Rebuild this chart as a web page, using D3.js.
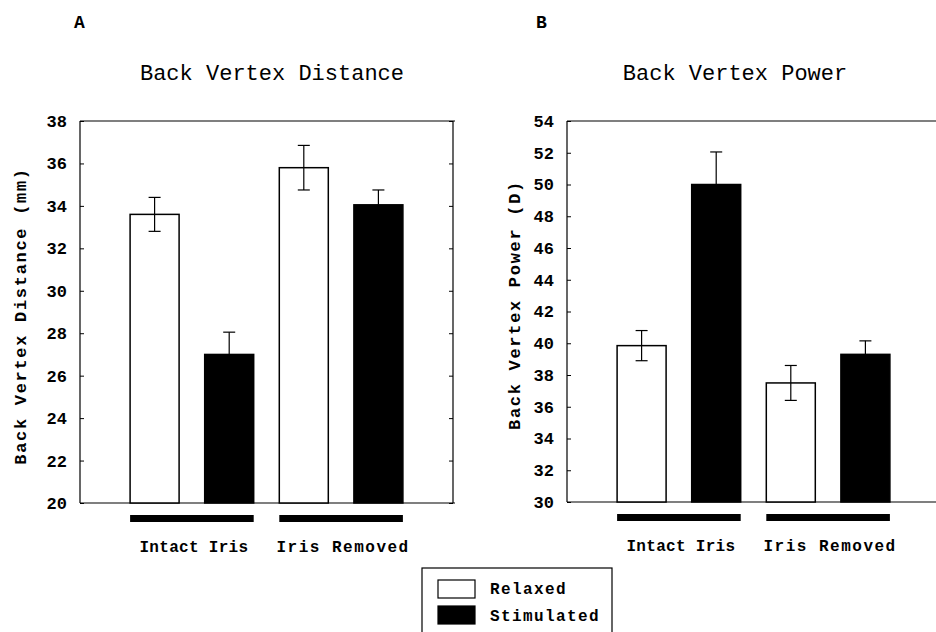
<!DOCTYPE html>
<html><head><meta charset="utf-8">
<script src="https://cdn.jsdelivr.net/npm/d3@7"></script>
<style>
html,body{margin:0;padding:0;background:#fff;}
svg{display:block;}
text{font-family:"Liberation Mono","DejaVu Sans Mono",monospace;fill:#000;}
</style></head><body>
<svg id="chart" width="936" height="632"></svg>
<script>
// ---- data ----
const groups = ["Intact Iris", "Iris Removed"];
const conditions = ["Relaxed", "Stimulated"];
// Panel A: Back Vertex Distance (mm)
const distMeans = [33.6, 27.0, 35.8, 34.05];
const distErr   = [0.8, 1.05, 1.05, 0.7];
const distTicks = [20, 22, 24, 26, 28, 30, 32, 34, 36, 38];
// Panel B: Back Vertex Power (D)
const powerMeans = [39.85, 50.0, 37.5, 39.3];
const powerErr   = [0.95, 2.05, 1.1, 0.85];
const powerTicks = [30, 32, 34, 36, 38, 40, 42, 44, 46, 48, 50, 52, 54];

const svg = d3.select("#chart");

function panel(opts) {
  const g = svg.append("g");
  const x = d3.scaleLinear().domain([0, 5]).range([opts.left, opts.left + 373]);
  const y = d3.scaleLinear().domain([opts.ticks[0], opts.ticks[opts.ticks.length - 1]]).range([opts.bottom, opts.top]);
  const bw = 49;

  // frame
  const right = Math.min(x(5), 936);
  g.append("line").attr("x1", x(0)).attr("x2", right + 2).attr("y1", y.range()[1]).attr("y2", y.range()[1]).attr("stroke", "#000").attr("stroke-width", 1.2);
  g.append("line").attr("x1", x(0)).attr("x2", right + 2).attr("y1", y.range()[0]).attr("y2", y.range()[0]).attr("stroke", "#000").attr("stroke-width", 1.2);
  g.append("line").attr("x1", x(0)).attr("x2", x(0)).attr("y1", opts.top).attr("y2", opts.bottom).attr("stroke", "#000").attr("stroke-width", 1.2);
  if (x(5) <= 936) {
    g.append("line").attr("x1", x(5)).attr("x2", x(5)).attr("y1", opts.top).attr("y2", opts.bottom).attr("stroke", "#000").attr("stroke-width", 1.2);
  }

  // left axis with inward ticks
  const ax = g.append("g").attr("transform", `translate(${x(0)},0)`)
    .call(d3.axisLeft(y).tickValues(opts.ticks).tickSize(-4).tickPadding(13).tickFormat(d3.format("d")));
  ax.select(".domain").remove();
  ax.selectAll("text").attr("font-size", 17).attr("font-weight", "bold")
    .attr("font-family", "'Liberation Mono', monospace").attr("fill", "#000");
  ax.selectAll("line").attr("stroke", "#000");
  // right side inward ticks
  const ax2 = g.append("g").attr("transform", `translate(${x(5)},0)`)
    .call(d3.axisRight(y).tickValues(opts.ticks).tickSize(-4).tickFormat(""));
  ax2.select(".domain").remove();
  ax2.selectAll("line").attr("stroke", "#000");

  // bars
  const vals = opts.means.map((m, i) => ({ m, e: opts.err[i], i, cond: i % 2 }));
  g.selectAll("rect.bar").data(vals).enter().append("rect")
    .attr("class", "bar")
    .attr("x", d => x(d.i + 1) - bw / 2)
    .attr("width", bw)
    .attr("y", d => y(d.m))
    .attr("height", d => y(opts.ticks[0]) - y(d.m))
    .attr("fill", d => d.cond ? "#000" : "#fff")
    .attr("stroke", "#000").attr("stroke-width", 1.5);

  // error bars
  const eg = g.selectAll("g.err").data(vals).enter().append("g").attr("class", "err");
  eg.append("line")
    .attr("x1", d => x(d.i + 1)).attr("x2", d => x(d.i + 1))
    .attr("y1", d => y(d.m + d.e)).attr("y2", d => d.cond ? y(d.m) : y(d.m - d.e))
    .attr("stroke", "#000").attr("stroke-width", 1.2);
  eg.append("line")
    .attr("x1", d => x(d.i + 1) - 6).attr("x2", d => x(d.i + 1) + 6)
    .attr("y1", d => y(d.m + d.e)).attr("y2", d => y(d.m + d.e))
    .attr("stroke", "#000").attr("stroke-width", 1.2);
  eg.filter(d => !d.cond).append("line")
    .attr("x1", d => x(d.i + 1) - 6).attr("x2", d => x(d.i + 1) + 6)
    .attr("y1", d => y(d.m - d.e)).attr("y2", d => y(d.m - d.e))
    .attr("stroke", "#000").attr("stroke-width", 1.2);

  // group bars and labels
  groups.forEach((gname, k) => {
    const x0 = x(2 * k + 1) - bw / 2, x1 = x(2 * k + 2) + bw / 2;
    g.append("rect").attr("x", x0).attr("y", opts.bottom + 12).attr("width", x1 - x0).attr("height", 7).attr("fill", "#000");
    g.append("text").attr("x", (x0 + x1) / 2 + (k === 0 ? 2 : 2)).attr("y", opts.bottom + 49)
      .attr("text-anchor", "middle").attr("font-size", 16).attr("font-weight", "bold")
      .attr("letter-spacing", k === 0 ? 0.3 : 1.5)
      .text(gname);
  });

  // titles
  g.append("text").attr("x", opts.letterX).attr("y", 28).attr("font-size", 18).attr("font-weight", "bold")
    .attr("font-family", "'Liberation Serif', serif").text(opts.letter);
  g.append("text").attr("x", opts.titleX).attr("y", 80).attr("text-anchor", "middle")
    .attr("font-size", 22).text(opts.title);
  g.append("text").attr("transform", `translate(${opts.ylabX},${opts.ylabY}) rotate(-90)`)
    .attr("text-anchor", "middle").attr("font-size", 17).attr("font-weight", "bold").attr("letter-spacing", 1.7)
    .text(opts.ylab);
}

panel({ left: 80, top: 121, bottom: 503, ticks: distTicks, means: distMeans, err: distErr,
  letter: "A", letterX: 74, title: "Back Vertex Distance", titleX: 272,
  ylab: "Back Vertex Distance (mm)", ylabX: 26, ylabY: 316 });
panel({ left: 567, top: 121, bottom: 502, ticks: powerTicks, means: powerMeans, err: powerErr,
  letter: "B", letterX: 536, title: "Back Vertex Power", titleX: 735,
  ylab: "Back Vertex Power (D)", ylabX: 520, ylabY: 305 });

// legend
const lg = svg.append("g");
lg.append("rect").attr("x", 422).attr("y", 568).attr("width", 190).attr("height", 80)
  .attr("fill", "#fff").attr("stroke", "#000").attr("stroke-width", 1.2);
conditions.forEach((c, i) => {
  lg.append("rect").attr("x", 438).attr("y", 580 + i * 26).attr("width", 37).attr("height", 18)
    .attr("fill", i ? "#000" : "#fff").attr("stroke", "#000").attr("stroke-width", 1.2);
  lg.append("text").attr("x", 490).attr("y", 594 + i * 27).attr("font-size", 16).attr("font-weight", "bold")
    .attr("letter-spacing", 1.4).text(c);
});
</script>
</body></html>
